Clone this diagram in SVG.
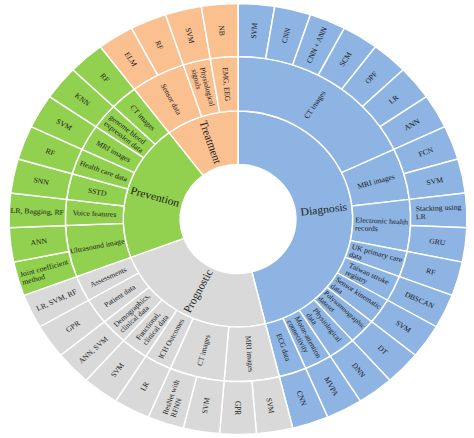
<svg xmlns="http://www.w3.org/2000/svg" xmlns:xlink="http://www.w3.org/1999/xlink" width="474" height="438" viewBox="0 0 474 438">
<style>
.s{stroke:#fff;stroke-width:1.4;stroke-linejoin:round}
.dg{fill:#8DB4E2}.pg{fill:#D9D9D9}.pv{fill:#92D050}.tr{fill:#FAC090}
text{font-family:"Liberation Serif","Times New Roman",serif;fill:#1a1a1a;text-anchor:middle;dominant-baseline:central}
.t1{font-size:11px}.t2{font-size:7.3px}.l{text-anchor:start}
</style>
<defs>
<path id="o" d="M162.5 0L215.5 0A215.5 215.5 0 0 1 212.709 34.569L160.396 26.067A162.5 162.5 0 0 0 162.5 0Z"/>
<path id="m1" d="M108 0L162.5 0A162.5 162.5 0 0 1 160.396 26.067L106.601 17.324A108 108 0 0 0 108 0Z"/>
<path id="m2" d="M108 0L162.5 0A162.5 162.5 0 0 1 154.137 51.459L102.442 34.2A108 108 0 0 0 108 0Z"/>
<path id="m7" d="M108 0L162.5 0A162.5 162.5 0 0 1 69.663 146.811L46.299 97.573A108 108 0 0 0 108 0Z"/>
<path id="i4" d="M54.5 0L108 0A108 108 0 0 1 86.34 64.88L43.57 32.74A54.5 54.5 0 0 0 54.5 0Z"/>
<path id="i8" d="M54.5 0L108 0A108 108 0 0 1 30.047 103.736L15.163 52.348A54.5 54.5 0 0 0 54.5 0Z"/>
<path id="i9" d="M54.5 0L108 0A108 108 0 0 1 13.018 107.212L6.569 54.103A54.5 54.5 0 0 0 54.5 0Z"/>
<path id="i18" d="M54.5 0L108 0A108 108 0 0 1 -104.861 25.846L-52.916 13.043A54.5 54.5 0 0 0 54.5 0Z"/>
</defs>
<rect width="474" height="438" fill="#fff"/>
<g transform="translate(238 219) scale(1.0625 1)">
<!-- Level 1 -->
<g id="diagnosis"><use xlink:href="#i18" class="s dg" transform="rotate(-90)"/><text class="t1" transform="rotate(-6.923) translate(81.25 0)">Diagnosis</text></g>
<g id="prognostic"><use xlink:href="#i9" class="s pg" transform="rotate(76.154)"/><text class="t1" transform="rotate(117.692) translate(81.25 0) rotate(180)">Prognostic</text></g>
<g id="prevention"><use xlink:href="#i8" class="s pv" transform="rotate(159.231)"/><text class="t1" transform="rotate(196.154) translate(81.25 0) rotate(180)">Prevention</text></g>
<g id="treatment"><use xlink:href="#i4" class="s tr" transform="rotate(233.077)"/><text class="t1" transform="rotate(251.538) translate(81.25 0) rotate(180)">Treatment</text></g>
<!-- Level 2 Diagnosis -->
<g id="d-ct"><use xlink:href="#m7" class="s dg" transform="rotate(-90)"/><text class="t2" transform="rotate(-57.692) translate(135.25 0)">CT images</text></g>
<g id="d-mri"><use xlink:href="#m2" class="s dg" transform="rotate(-25.385)"/><text class="t2" transform="rotate(-16.154) translate(135.25 0)">MRI images</text></g>
<g id="d-ehr"><use xlink:href="#m2" class="s dg" transform="rotate(-6.923)"/><text class="t2 l" transform="rotate(2.308) translate(135.25 0)"><tspan x="-24.8" y="-4">Electronic health</tspan><tspan x="-24.8" y="4">records</tspan></text></g>
<g id="d-uk"><use xlink:href="#m1" class="s dg" transform="rotate(11.538)"/><text class="t2 l" transform="rotate(16.154) translate(135.25 0)"><tspan x="-24.7" y="-4">UK primary care</tspan><tspan x="-24.7" y="4">data</tspan></text></g>
<g id="d-taiwan"><use xlink:href="#m1" class="s dg" transform="rotate(20.769)"/><text class="t2 l" transform="rotate(25.385) translate(135.25 0)"><tspan x="-20.8" y="-4">Taiwan stroke</tspan><tspan x="-20.8" y="4">registry</tspan></text></g>
<g id="d-sensor"><use xlink:href="#m1" class="s dg" transform="rotate(30)"/><text class="t2 l" transform="rotate(34.615) translate(135.25 0)"><tspan x="-25.2" y="-4">Sensor kinematic</tspan><tspan x="-25.2" y="4">data</tspan></text></g>
<g id="d-poly"><use xlink:href="#m1" class="s dg" transform="rotate(39.231)"/><text class="t2 l" style="font-size:6.8px" transform="rotate(43.846) translate(135.25 0)"><tspan x="-25.5" y="-4">Polysomnographic</tspan><tspan x="-25.5" y="4">dataset</tspan></text></g>
<g id="d-phys"><use xlink:href="#m1" class="s dg" transform="rotate(48.462)"/><text class="t2 l" transform="rotate(53.077) translate(135.25 0)"><tspan x="-19.9" y="-4">Physiological</tspan><tspan x="-19.9" y="4">data</tspan></text></g>
<g id="d-motor"><use xlink:href="#m1" class="s dg" transform="rotate(57.692)"/><text class="t2 l" transform="rotate(62.308) translate(135.25 0)"><tspan x="-23.1" y="-4">Motor-attention</tspan><tspan x="-23.1" y="4">connectivity</tspan></text></g>
<g id="d-ecg"><use xlink:href="#m1" class="s dg" transform="rotate(66.923)"/><text class="t2" transform="rotate(71.538) translate(135.25 0)">ECG data</text></g>
<!-- Level 2 Prognostic -->
<g id="g-mri"><use xlink:href="#m2" class="s pg" transform="rotate(76.154)"/><text class="t2" transform="rotate(85.385) translate(135.25 0)">MRI images</text></g>
<g id="g-ct"><use xlink:href="#m2" class="s pg" transform="rotate(94.615)"/><text class="t2" transform="rotate(103.846) translate(135.25 0) rotate(180)">CT images</text></g>
<g id="g-ich"><use xlink:href="#m1" class="s pg" transform="rotate(113.077)"/><text class="t2" transform="rotate(117.692) translate(135.25 0) rotate(180)">ICH Outcomes</text></g>
<g id="g-func"><use xlink:href="#m1" class="s pg" transform="rotate(122.308)"/><text class="t2 l" transform="rotate(126.923) translate(135.25 0) rotate(180)"><tspan x="-17.7" y="-4">Functional,</tspan><tspan x="-17.7" y="4">clinical data</tspan></text></g>
<g id="g-demo"><use xlink:href="#m1" class="s pg" transform="rotate(131.538)"/><text class="t2 l" transform="rotate(136.154) translate(135.25 0) rotate(180)"><tspan x="-22.2" y="-4">Demographics,</tspan><tspan x="-22.2" y="4">clinical data</tspan></text></g>
<g id="g-patient"><use xlink:href="#m1" class="s pg" transform="rotate(140.769)"/><text class="t2" transform="rotate(145.385) translate(135.25 0) rotate(180)">Patient data</text></g>
<g id="g-assess"><use xlink:href="#m1" class="s pg" transform="rotate(150)"/><text class="t2" transform="rotate(154.615) translate(135.25 0) rotate(180)">Assessments</text></g>
<!-- Level 2 Prevention -->
<g id="v-us"><use xlink:href="#m2" class="s pv" transform="rotate(159.231)"/><text class="t2" transform="rotate(168.462) translate(135.25 0) rotate(180)">Ultrasound image</text></g>
<g id="v-voice"><use xlink:href="#m1" class="s pv" transform="rotate(177.692)"/><text class="t2" transform="rotate(182.308) translate(135.25 0) rotate(180)">Voice features</text></g>
<g id="v-sstd"><use xlink:href="#m1" class="s pv" transform="rotate(186.923)"/><text class="t2" transform="rotate(191.538) translate(135.25 0) rotate(180)">SSTD</text></g>
<g id="v-health"><use xlink:href="#m1" class="s pv" transform="rotate(196.154)"/><text class="t2" transform="rotate(200.769) translate(135.25 0) rotate(180)">Health care data</text></g>
<g id="v-mri"><use xlink:href="#m1" class="s pv" transform="rotate(205.385)"/><text class="t2" transform="rotate(210) translate(135.25 0) rotate(180)">MRI images</text></g>
<g id="v-genome"><use xlink:href="#m1" class="s pv" transform="rotate(214.615)"/><text class="t2 l" transform="rotate(219.231) translate(135.25 0) rotate(180)"><tspan x="-22.6" y="-4">genome blood</tspan><tspan x="-22.6" y="4">expression data</tspan></text></g>
<g id="v-ct"><use xlink:href="#m1" class="s pv" transform="rotate(223.846)"/><text class="t2" transform="rotate(228.462) translate(135.25 0) rotate(180)">CT images</text></g>
<!-- Level 2 Treatment -->
<g id="t-sensor"><use xlink:href="#m2" class="s tr" transform="rotate(233.077)"/><text class="t2" transform="rotate(242.308) translate(135.25 0) rotate(180)">Sensor data</text></g>
<g id="t-phys"><use xlink:href="#m1" class="s tr" transform="rotate(251.538)"/><text class="t2 l" transform="rotate(256.154) translate(135.25 0) rotate(180)"><tspan x="-19.9" y="-4">Physiological</tspan><tspan x="-19.9" y="4">signals</tspan></text></g>
<g id="t-emg"><use xlink:href="#m1" class="s tr" transform="rotate(260.769)"/><text class="t2" transform="rotate(265.385) translate(135.25 0) rotate(180)">EMG, EEG</text></g>
<!-- Level 3 Diagnosis -->
<g id="l0"><use xlink:href="#o" class="s dg" transform="rotate(-90)"/><text class="t2" transform="rotate(-85.385) translate(189 0)">SVM</text></g>
<g id="l1"><use xlink:href="#o" class="s dg" transform="rotate(-80.769)"/><text class="t2" transform="rotate(-76.154) translate(189 0)">CNN</text></g>
<g id="l2"><use xlink:href="#o" class="s dg" transform="rotate(-71.538)"/><text class="t2" transform="rotate(-66.923) translate(189 0)">CNN + ANN</text></g>
<g id="l3"><use xlink:href="#o" class="s dg" transform="rotate(-62.308)"/><text class="t2" transform="rotate(-57.692) translate(189 0)">SCM</text></g>
<g id="l4"><use xlink:href="#o" class="s dg" transform="rotate(-53.077)"/><text class="t2" transform="rotate(-48.462) translate(189 0)">OPF</text></g>
<g id="l5"><use xlink:href="#o" class="s dg" transform="rotate(-43.846)"/><text class="t2" transform="rotate(-39.231) translate(189 0)">LR</text></g>
<g id="l6"><use xlink:href="#o" class="s dg" transform="rotate(-34.615)"/><text class="t2" transform="rotate(-30) translate(189 0)">ANN</text></g>
<g id="l7"><use xlink:href="#o" class="s dg" transform="rotate(-25.385)"/><text class="t2" transform="rotate(-20.769) translate(189 0)">FCN</text></g>
<g id="l8"><use xlink:href="#o" class="s dg" transform="rotate(-16.154)"/><text class="t2" transform="rotate(-11.538) translate(189 0)">SVM</text></g>
<g id="l9"><use xlink:href="#o" class="s dg" transform="rotate(-6.923)"/><text class="t2 l" transform="rotate(-2.308) translate(189 0)"><tspan x="-21.6" y="-4">Stacking using</tspan><tspan x="-21.6" y="4">LR</tspan></text></g>
<g id="l10"><use xlink:href="#o" class="s dg" transform="rotate(2.308)"/><text class="t2" transform="rotate(6.923) translate(189 0)">GRU</text></g>
<g id="l11"><use xlink:href="#o" class="s dg" transform="rotate(11.538)"/><text class="t2" transform="rotate(16.154) translate(189 0)">RF</text></g>
<g id="l12"><use xlink:href="#o" class="s dg" transform="rotate(20.769)"/><text class="t2" transform="rotate(25.385) translate(189 0)">DBSCAN</text></g>
<g id="l13"><use xlink:href="#o" class="s dg" transform="rotate(30)"/><text class="t2" transform="rotate(34.615) translate(189 0)">SVM</text></g>
<g id="l14"><use xlink:href="#o" class="s dg" transform="rotate(39.231)"/><text class="t2" transform="rotate(43.846) translate(189 0)">DT</text></g>
<g id="l15"><use xlink:href="#o" class="s dg" transform="rotate(48.462)"/><text class="t2" transform="rotate(53.077) translate(189 0)">DNN</text></g>
<g id="l16"><use xlink:href="#o" class="s dg" transform="rotate(57.692)"/><text class="t2" transform="rotate(62.308) translate(189 0)">MVPA</text></g>
<g id="l17"><use xlink:href="#o" class="s dg" transform="rotate(66.923)"/><text class="t2" transform="rotate(71.538) translate(189 0)">CNN</text></g>
<!-- Level 3 Prognostic -->
<g id="l18"><use xlink:href="#o" class="s pg" transform="rotate(76.154)"/><text class="t2" transform="rotate(80.769) translate(189 0)">SVM</text></g>
<g id="l19"><use xlink:href="#o" class="s pg" transform="rotate(85.385)"/><text class="t2" transform="rotate(90) translate(189 0)">GPR</text></g>
<g id="l20"><use xlink:href="#o" class="s pg" transform="rotate(94.615)"/><text class="t2" transform="rotate(99.231) translate(189 0) rotate(180)">SVM</text></g>
<g id="l21"><use xlink:href="#o" class="s pg" transform="rotate(103.846)"/><text class="t2 l" transform="rotate(108.462) translate(189 0) rotate(180)"><tspan x="-18.1" y="-4">ResNet with</tspan><tspan x="-18.1" y="4">RFNN</tspan></text></g>
<g id="l22"><use xlink:href="#o" class="s pg" transform="rotate(113.077)"/><text class="t2" transform="rotate(117.692) translate(189 0) rotate(180)">LR</text></g>
<g id="l23"><use xlink:href="#o" class="s pg" transform="rotate(122.308)"/><text class="t2" transform="rotate(126.923) translate(189 0) rotate(180)">SVM</text></g>
<g id="l24"><use xlink:href="#o" class="s pg" transform="rotate(131.538)"/><text class="t2" transform="rotate(136.154) translate(189 0) rotate(180)">ANN, SVM</text></g>
<g id="l25"><use xlink:href="#o" class="s pg" transform="rotate(140.769)"/><text class="t2" transform="rotate(145.385) translate(189 0) rotate(180)">GPR</text></g>
<g id="l26"><use xlink:href="#o" class="s pg" transform="rotate(150)"/><text class="t2" transform="rotate(154.615) translate(189 0) rotate(180)">LR, SVM, RF</text></g>
<!-- Level 3 Prevention -->
<g id="l27"><use xlink:href="#o" class="s pv" transform="rotate(159.231)"/><text class="t2 l" transform="rotate(163.846) translate(189 0) rotate(180)"><tspan x="-23.6" y="-4">Joint coefficient</tspan><tspan x="-23.6" y="4">method</tspan></text></g>
<g id="l28"><use xlink:href="#o" class="s pv" transform="rotate(168.462)"/><text class="t2" transform="rotate(173.077) translate(189 0) rotate(180)">ANN</text></g>
<g id="l29"><use xlink:href="#o" class="s pv" transform="rotate(177.692)"/><text class="t2" transform="rotate(182.308) translate(189 0) rotate(180)">LR, Bagging, RF</text></g>
<g id="l30"><use xlink:href="#o" class="s pv" transform="rotate(186.923)"/><text class="t2" transform="rotate(191.538) translate(189 0) rotate(180)">SNN</text></g>
<g id="l31"><use xlink:href="#o" class="s pv" transform="rotate(196.154)"/><text class="t2" transform="rotate(200.769) translate(189 0) rotate(180)">RF</text></g>
<g id="l32"><use xlink:href="#o" class="s pv" transform="rotate(205.385)"/><text class="t2" transform="rotate(210) translate(189 0) rotate(180)">SVM</text></g>
<g id="l33"><use xlink:href="#o" class="s pv" transform="rotate(214.615)"/><text class="t2" transform="rotate(219.231) translate(189 0) rotate(180)">KNN</text></g>
<g id="l34"><use xlink:href="#o" class="s pv" transform="rotate(223.846)"/><text class="t2" transform="rotate(228.462) translate(189 0) rotate(180)">RF</text></g>
<!-- Level 3 Treatment -->
<g id="l35"><use xlink:href="#o" class="s tr" transform="rotate(233.077)"/><text class="t2" transform="rotate(237.692) translate(189 0) rotate(180)">ELM</text></g>
<g id="l36"><use xlink:href="#o" class="s tr" transform="rotate(242.308)"/><text class="t2" transform="rotate(246.923) translate(189 0) rotate(180)">RF</text></g>
<g id="l37"><use xlink:href="#o" class="s tr" transform="rotate(251.538)"/><text class="t2" transform="rotate(256.154) translate(189 0) rotate(180)">SVM</text></g>
<g id="l38"><use xlink:href="#o" class="s tr" transform="rotate(260.769)"/><text class="t2" transform="rotate(265.385) translate(189 0) rotate(180)">NB</text></g>
<g id="connectors"/>
</g>
</svg>
